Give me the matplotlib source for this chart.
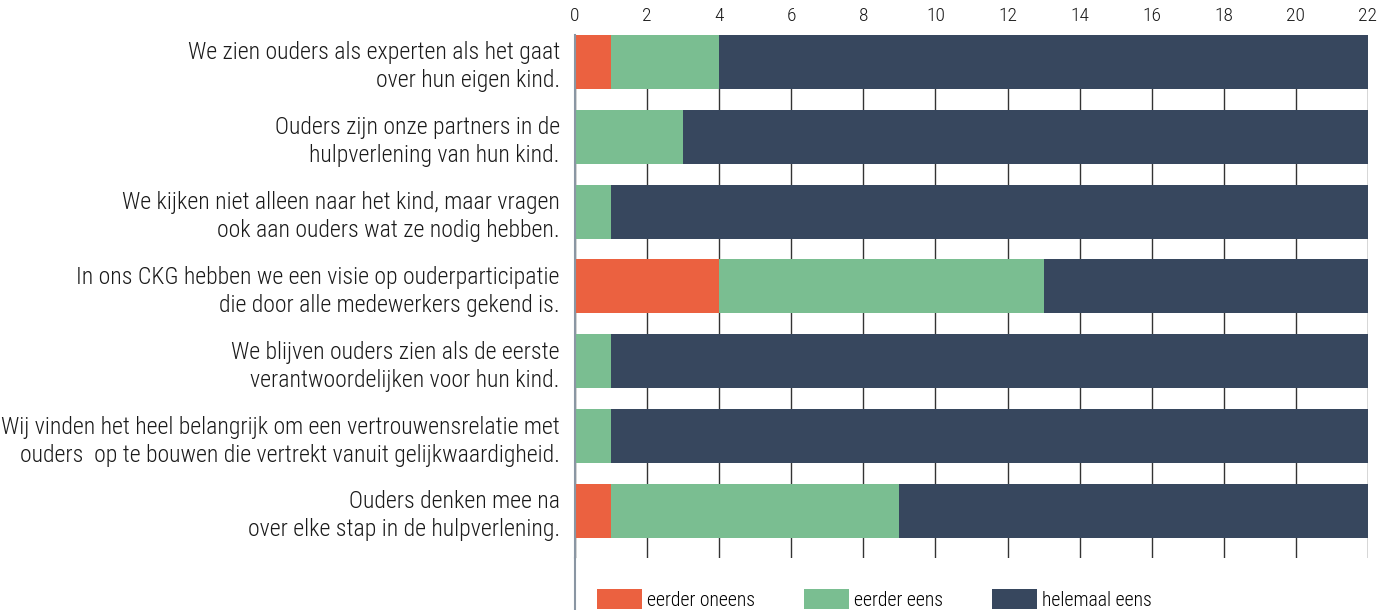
import numpy as np
import matplotlib.pyplot as plt
from matplotlib.lines import Line2D

# stellingen (van boven naar onder)
stellingen = [
    "We zien ouders als experten als het gaat\nover hun eigen kind.",
    "Ouders zijn onze partners in de\nhulpverlening van hun kind.",
    "We kijken niet alleen naar het kind, maar vragen\nook aan ouders wat ze nodig hebben.",
    "In ons CKG hebben we een visie op ouderparticipatie\ndie door alle medewerkers gekend is.",
    "We blijven ouders zien als de eerste\nverantwoordelijken voor hun kind.",
    "Wij vinden het heel belangrijk om een vertrouwensrelatie met\nouders  op te bouwen die vertrekt vanuit gelijkwaardigheid.",
    "Ouders denken mee na\nover elke stap in de hulpverlening.",
]

eerder_oneens = [1, 0, 0, 4, 0, 0, 1]
eerder_eens = [3, 3, 1, 9, 1, 1, 8]
helemaal_eens = [18, 19, 21, 9, 21, 21, 13]

reeksen = ["eerder oneens", "eerder eens", "helemaal eens"]
kleuren = ["#EB6140", "#7ABE91", "#37475E"]

x_ticks = list(range(0, 23, 2))

plt.rcParams['font.family'] = ['Roboto Condensed', 'DejaVu Sans']
plt.rcParams['font.weight'] = 'light'

fig = plt.figure(figsize=(13.79, 6.10), dpi=100)
ax = fig.add_axes([0.417, 0.0852, 0.575, 0.8574])

y = np.arange(len(stellingen))
links = np.zeros(len(stellingen))
for waarden, naam, kleur in zip([eerder_oneens, eerder_eens, helemaal_eens], reeksen, kleuren):
    ax.barh(y, waarden, left=links, height=0.72, color=kleur, label=naam, zorder=2)
    links = links + np.array(waarden)

ax.set_xlim(0, 22)
ax.set_ylim(6.63, -0.36)
ax.set_xticks(x_ticks)
ax.xaxis.tick_top()
ax.tick_params(axis='x', length=0, pad=7, labelsize=14, colors='#1a1a1a')
ax.set_yticks(y)
ax.set_yticklabels(stellingen, fontsize=17.1, linespacing=1.28, color='#1a1a1a')
ax.tick_params(axis='y', length=0, pad=11)

ax.grid(axis='x', color='#333333', linewidth=1.0, zorder=0)
ax.set_axisbelow(True)
for s in ['top', 'right', 'bottom']:
    ax.spines[s].set_visible(False)
ax.spines['left'].set_color('#8a96a3')
ax.spines['left'].set_linewidth(1.5)
# spine loopt door tot onderaan
ax.add_line(Line2D([0, 0], [0, -0.12], transform=ax.transAxes, color='#8a96a3',
                   linewidth=1.5, clip_on=False))

fig.legend(loc='upper left', bbox_to_anchor=(597 / 1379, 0.0344), ncol=3, frameon=False,
           fontsize=14.2, handlelength=2.28, handleheight=1.2, handletextpad=0.25,
           columnspacing=2.49, borderaxespad=0, borderpad=0)

fig.savefig('out.png', dpi=100)
